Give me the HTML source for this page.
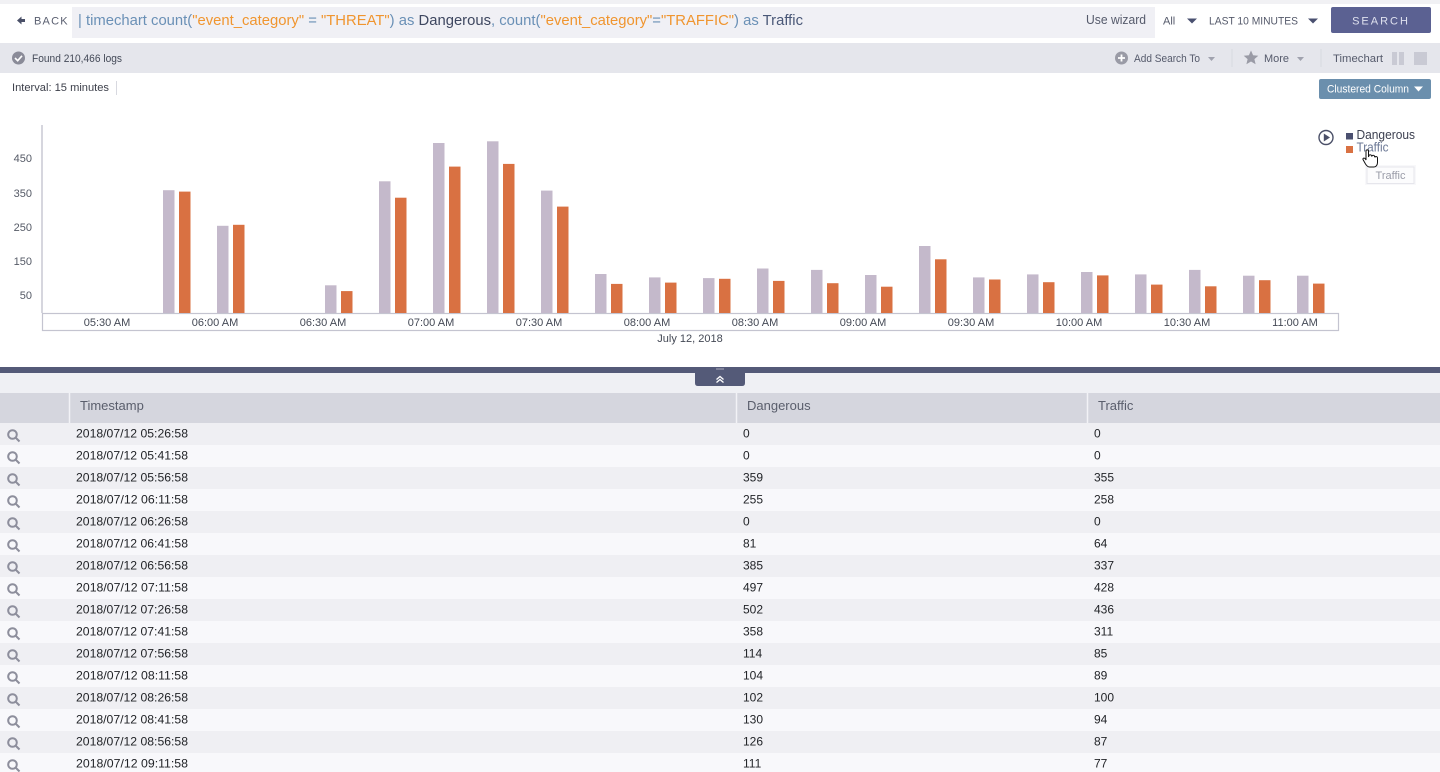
<!DOCTYPE html>
<html>
<head>
<meta charset="utf-8">
<style>
html,body{margin:0;padding:0;background:#fff;}
body{width:1440px;height:772px;overflow:hidden;}
svg{display:block;font-family:"Liberation Sans",sans-serif;}
</style>
</head>
<body>
<svg width="1440" height="772" viewBox="0 0 1440 772" xmlns="http://www.w3.org/2000/svg">
  <!-- top bar -->
  <rect x="0" y="0" width="1440" height="44" fill="#ffffff"/>
  <rect x="0" y="0" width="1440" height="4" fill="#f1f1f4"/>
  <!-- back -->
  <path d="M17 20.5 L21.5 16.5 L21.5 19 L25 19 L25 22 L21.5 22 L21.5 24.5 Z" fill="#4a5068"/>
  <text x="34" y="24.5" font-size="11" fill="#5a5f70" letter-spacing="1.2">BACK</text>
  <!-- query box -->
  <rect x="72" y="7" width="1083" height="31" fill="#f0f0f5"/>
  <text x="78" y="25" font-size="14.5" textLength="725" lengthAdjust="spacingAndGlyphs"><tspan fill="#6a90b6">| timechart count(</tspan><tspan fill="#f0952f">"event_category"</tspan><tspan fill="#6a90b6"> = </tspan><tspan fill="#f0952f">"THREAT"</tspan><tspan fill="#6a90b6">) as </tspan><tspan fill="#3e4760">Dangerous</tspan><tspan fill="#6a90b6">, count(</tspan><tspan fill="#f0952f">"event_category"</tspan><tspan fill="#6a90b6">=</tspan><tspan fill="#f0952f">"TRAFFIC"</tspan><tspan fill="#6a90b6">) as </tspan><tspan fill="#4a5878">Traffic</tspan></text>
  <text x="1086" y="24" font-size="12.5" fill="#555a6b" textLength="60" lengthAdjust="spacingAndGlyphs">Use wizard</text>
  <text x="1163" y="24.5" font-size="11" fill="#555a6b">All</text>
  <path d="M1187 18.5 L1197 18.5 L1192 23.5 Z" fill="#4a5070"/>
  <text x="1209" y="24.5" font-size="11" fill="#555a6b" textLength="89" lengthAdjust="spacingAndGlyphs">LAST 10 MINUTES</text>
  <path d="M1308 18.5 L1318 18.5 L1313 23.5 Z" fill="#4a5070"/>
  <rect x="1331" y="7" width="100" height="26" rx="2" fill="#5b6192"/>
  <text x="1381" y="24.5" font-size="11" fill="#dfe1ee" text-anchor="middle" letter-spacing="2">SEARCH</text>

  <!-- second bar -->
  <rect x="0" y="43" width="1440" height="30" fill="#e5e6ec"/>
  <circle cx="18.5" cy="58" r="6.5" fill="#8a8b98"/>
  <path d="M15 58 L17.7 60.7 L22 55.8" stroke="#fff" stroke-width="1.6" fill="none"/>
  <text x="32" y="62" font-size="11" fill="#444a58" textLength="90" lengthAdjust="spacingAndGlyphs">Found 210,466 logs</text>

  <circle cx="1121.5" cy="58" r="6.5" fill="#9a9ba6"/>
  <path d="M1121.5 54.5 V61.5 M1118 58 H1125" stroke="#fff" stroke-width="1.8"/>
  <text x="1134" y="62" font-size="11" fill="#555a6b" textLength="66" lengthAdjust="spacingAndGlyphs">Add Search To</text>
  <path d="M1208 57 L1215 57 L1211.5 61 Z" fill="#a0a2ae"/>
  <line x1="1232" y1="49" x2="1232" y2="67" stroke="#d8d9e0"/>
  <path d="M1251 50.5 L1253.1 55.3 L1258.3 55.7 L1254.4 59.1 L1255.6 64.2 L1251 61.5 L1246.4 64.2 L1247.6 59.1 L1243.7 55.7 L1248.9 55.3 Z" fill="#9a9ba6"/>
  <text x="1264" y="62" font-size="11" fill="#555a6b" textLength="25" lengthAdjust="spacingAndGlyphs">More</text>
  <path d="M1297 57 L1304 57 L1300.5 61 Z" fill="#a0a2ae"/>
  <line x1="1321" y1="49" x2="1321" y2="67" stroke="#d8d9e0"/>
  <text x="1333" y="62" font-size="11" fill="#555a6b" textLength="50" lengthAdjust="spacingAndGlyphs">Timechart</text>
  <rect x="1392" y="52" width="5" height="13" fill="#c9cad4"/>
  <rect x="1399" y="52" width="5" height="13" fill="#c9cad4"/>
  <rect x="1414" y="52" width="13" height="13" fill="#c9cad4"/>

  <!-- interval -->
  <text x="12" y="91" font-size="11" fill="#3c3f4a" textLength="97" lengthAdjust="spacingAndGlyphs">Interval: 15 minutes</text>
  <line x1="116.5" y1="81" x2="116.5" y2="95" stroke="#d8d9e0"/>
  <rect x="1319" y="79" width="112" height="20" rx="2" fill="#6b8fad"/>
  <text x="1327" y="92.5" font-size="11" fill="#ffffff" textLength="82" lengthAdjust="spacingAndGlyphs">Clustered Column</text>
  <path d="M1414 86.5 L1423 86.5 L1418.5 91.5 Z" fill="#ffffff"/>

  <!-- chart axes -->
  <line x1="42" y1="125" x2="42" y2="313" stroke="#c9c9d3" stroke-width="1.5"/>
  <rect x="42.5" y="313.5" width="1296" height="17" fill="#fff" stroke="#c4c4d0" stroke-width="1.2"/>
  <g font-size="11" fill="#555a66" text-anchor="end">
    <text x="32" y="162">450</text>
    <text x="32" y="197">350</text>
    <text x="32" y="231">250</text>
    <text x="32" y="265">150</text>
    <text x="32" y="299">50</text>
  </g>
  <!-- bars -->
  <g fill="#c4b9cb">
    <rect x="163" y="190.2" width="11.5" height="122.8"/>
    <rect x="217" y="225.8" width="11.5" height="87.2"/>
    <rect x="325" y="285.3" width="11.5" height="27.7"/>
    <rect x="379" y="181.3" width="11.5" height="131.7"/>
    <rect x="433" y="143" width="11.5" height="170"/>
    <rect x="487" y="141.3" width="11.5" height="171.7"/>
    <rect x="541" y="190.6" width="11.5" height="122.4"/>
    <rect x="595" y="274" width="11.5" height="39"/>
    <rect x="649" y="277.4" width="11.5" height="35.6"/>
    <rect x="703" y="278.1" width="11.5" height="34.9"/>
    <rect x="757" y="268.5" width="11.5" height="44.5"/>
    <rect x="811" y="269.9" width="11.5" height="43.1"/>
    <rect x="865" y="275" width="11.5" height="38"/>
    <rect x="919" y="246" width="11.5" height="67"/>
    <rect x="973" y="277.4" width="11.5" height="35.6"/>
    <rect x="1027" y="274.4" width="11.5" height="38.6"/>
    <rect x="1081" y="272" width="11.5" height="41"/>
    <rect x="1135" y="274.4" width="11.5" height="38.6"/>
    <rect x="1189" y="269.9" width="11.5" height="43.1"/>
    <rect x="1243" y="275.7" width="11.5" height="37.3"/>
    <rect x="1297" y="275.7" width="11.5" height="37.3"/>
  </g>
  <g fill="#d97142">
    <rect x="179" y="191.6" width="11.5" height="121.4"/>
    <rect x="233" y="224.8" width="11.5" height="88.2"/>
    <rect x="341" y="291.1" width="11.5" height="21.9"/>
    <rect x="395" y="197.7" width="11.5" height="115.3"/>
    <rect x="449" y="166.6" width="11.5" height="146.4"/>
    <rect x="503" y="163.9" width="11.5" height="149.1"/>
    <rect x="557" y="206.6" width="11.5" height="106.4"/>
    <rect x="611" y="283.9" width="11.5" height="29.1"/>
    <rect x="665" y="282.6" width="11.5" height="30.4"/>
    <rect x="719" y="278.8" width="11.5" height="34.2"/>
    <rect x="773" y="280.9" width="11.5" height="32.1"/>
    <rect x="827" y="283.2" width="11.5" height="29.8"/>
    <rect x="881" y="286.7" width="11.5" height="26.3"/>
    <rect x="935" y="259.3" width="11.5" height="53.7"/>
    <rect x="989" y="279.5" width="11.5" height="33.5"/>
    <rect x="1043" y="282.2" width="11.5" height="30.8"/>
    <rect x="1097" y="275.4" width="11.5" height="37.6"/>
    <rect x="1151" y="284.6" width="11.5" height="28.4"/>
    <rect x="1205" y="286.3" width="11.5" height="26.7"/>
    <rect x="1259" y="280.2" width="11.5" height="32.8"/>
    <rect x="1313" y="283.6" width="11.5" height="29.4"/>
  </g>
  <!-- x labels -->
  <g font-size="11" fill="#444955" text-anchor="middle">
    <text x="107" y="326">05:30 AM</text>
    <text x="215" y="326">06:00 AM</text>
    <text x="323" y="326">06:30 AM</text>
    <text x="431" y="326">07:00 AM</text>
    <text x="539" y="326">07:30 AM</text>
    <text x="647" y="326">08:00 AM</text>
    <text x="755" y="326">08:30 AM</text>
    <text x="863" y="326">09:00 AM</text>
    <text x="971" y="326">09:30 AM</text>
    <text x="1079" y="326">10:00 AM</text>
    <text x="1187" y="326">10:30 AM</text>
    <text x="1295" y="326">11:00 AM</text>
    <text x="690" y="342">July 12, 2018</text>
  </g>
  <!-- legend -->
  <circle cx="1326" cy="137.5" r="7" fill="none" stroke="#4b5068" stroke-width="1.4"/>
  <path d="M1323.8 133.5 L1330 137.5 L1323.8 141.5 Z" fill="#4b5068"/>
  <rect x="1346" y="133" width="7" height="6.5" fill="#4b5070"/>
  <text x="1356.5" y="139" font-size="12.5" fill="#3c4050" textLength="58.5" lengthAdjust="spacingAndGlyphs">Dangerous</text>
  <rect x="1346" y="146" width="7" height="7" fill="#d97142"/>
  <text x="1356.5" y="151.5" font-size="12.5" fill="#6b7895" textLength="32" lengthAdjust="spacingAndGlyphs">Traffic</text>
  <!-- tooltip -->
  <rect x="1365" y="165" width="51" height="20" fill="#f4f4f7" opacity="0.6"/>
  <rect x="1367" y="167" width="47" height="16.5" fill="#fcfcfd" stroke="#e6e6ec"/>
  <text x="1390.5" y="179" font-size="11" fill="#9a9ca8" text-anchor="middle">Traffic</text>
  <!-- cursor -->
  <path d="M1366 151 C1366 149.5 1368.5 149.5 1368.5 151 L1368.5 157 L1369 155.5 C1369.5 154.5 1371.5 154.5 1371.5 156 L1372 156 C1372.5 155 1374.5 155 1374.5 156.5 L1375 157 C1375.5 156 1377.5 156.5 1377.5 158 L1377.5 162.5 C1377.5 165 1376 167 1374 167 L1369.5 167 C1368 167 1366.5 165.5 1365.5 164 L1363 159.5 C1362.5 158 1364.5 157.5 1365.5 159 L1366 160 Z" fill="#fff" stroke="#111" stroke-width="1"/>

  <!-- divider -->
  <rect x="0" y="367" width="1440" height="6" fill="#545a78"/>
  <rect x="0" y="373" width="1440" height="20" fill="#eff0f4"/>
  <path d="M695 372 H745 V383 Q745 386 742 386 H698 Q695 386 695 383 Z" fill="#545a78"/>
  <path d="M716.5 379.5 L720 376.5 L723.5 379.5 M716.5 382.5 L720 379.5 L723.5 382.5" stroke="#fff" stroke-width="1.3" fill="none"/>
  <rect x="716" y="368.5" width="8" height="1" fill="#aab"/>

  <!-- table header -->
  <rect x="0" y="393" width="1440" height="30" fill="#d5d6de"/>
  <line x1="69.5" y1="393" x2="69.5" y2="423" stroke="#f2f2f6" stroke-width="1.5"/>
  <line x1="736.5" y1="393" x2="736.5" y2="423" stroke="#f2f2f6" stroke-width="1.5"/>
  <line x1="1087.5" y1="393" x2="1087.5" y2="423" stroke="#f2f2f6" stroke-width="1.5"/>
  <g font-size="13" fill="#5a5e6c">
    <text x="80" y="410">Timestamp</text>
    <text x="747" y="410">Dangerous</text>
    <text x="1098" y="410">Traffic</text>
  </g>

  <!-- rows -->
  <g>
    <rect x="0" y="423" width="1440" height="22" fill="#efeff3"/>
    <rect x="0" y="445" width="1440" height="22" fill="#f8f8fb"/>
    <rect x="0" y="467" width="1440" height="22" fill="#efeff3"/>
    <rect x="0" y="489" width="1440" height="22" fill="#f8f8fb"/>
    <rect x="0" y="511" width="1440" height="22" fill="#efeff3"/>
    <rect x="0" y="533" width="1440" height="22" fill="#f8f8fb"/>
    <rect x="0" y="555" width="1440" height="22" fill="#efeff3"/>
    <rect x="0" y="577" width="1440" height="22" fill="#f8f8fb"/>
    <rect x="0" y="599" width="1440" height="22" fill="#efeff3"/>
    <rect x="0" y="621" width="1440" height="22" fill="#f8f8fb"/>
    <rect x="0" y="643" width="1440" height="22" fill="#efeff3"/>
    <rect x="0" y="665" width="1440" height="22" fill="#f8f8fb"/>
    <rect x="0" y="687" width="1440" height="22" fill="#efeff3"/>
    <rect x="0" y="709" width="1440" height="22" fill="#f8f8fb"/>
    <rect x="0" y="731" width="1440" height="22" fill="#efeff3"/>
    <rect x="0" y="753" width="1440" height="22" fill="#f8f8fb"/>
  </g>
  <!-- magnifier icons -->
  <g stroke="#8d8e9c" stroke-width="2" fill="none">
    <circle cx="12.5" cy="434.5" r="4.3"/><line x1="15.5" y1="437.5" x2="19.5" y2="441.5"/>
    <circle cx="12.5" cy="456.5" r="4.3"/><line x1="15.5" y1="459.5" x2="19.5" y2="463.5"/>
    <circle cx="12.5" cy="478.5" r="4.3"/><line x1="15.5" y1="481.5" x2="19.5" y2="485.5"/>
    <circle cx="12.5" cy="500.5" r="4.3"/><line x1="15.5" y1="503.5" x2="19.5" y2="507.5"/>
    <circle cx="12.5" cy="522.5" r="4.3"/><line x1="15.5" y1="525.5" x2="19.5" y2="529.5"/>
    <circle cx="12.5" cy="544.5" r="4.3"/><line x1="15.5" y1="547.5" x2="19.5" y2="551.5"/>
    <circle cx="12.5" cy="566.5" r="4.3"/><line x1="15.5" y1="569.5" x2="19.5" y2="573.5"/>
    <circle cx="12.5" cy="588.5" r="4.3"/><line x1="15.5" y1="591.5" x2="19.5" y2="595.5"/>
    <circle cx="12.5" cy="610.5" r="4.3"/><line x1="15.5" y1="613.5" x2="19.5" y2="617.5"/>
    <circle cx="12.5" cy="632.5" r="4.3"/><line x1="15.5" y1="635.5" x2="19.5" y2="639.5"/>
    <circle cx="12.5" cy="654.5" r="4.3"/><line x1="15.5" y1="657.5" x2="19.5" y2="661.5"/>
    <circle cx="12.5" cy="676.5" r="4.3"/><line x1="15.5" y1="679.5" x2="19.5" y2="683.5"/>
    <circle cx="12.5" cy="698.5" r="4.3"/><line x1="15.5" y1="701.5" x2="19.5" y2="705.5"/>
    <circle cx="12.5" cy="720.5" r="4.3"/><line x1="15.5" y1="723.5" x2="19.5" y2="727.5"/>
    <circle cx="12.5" cy="742.5" r="4.3"/><line x1="15.5" y1="745.5" x2="19.5" y2="749.5"/>
    <circle cx="12.5" cy="764.5" r="4.3"/><line x1="15.5" y1="767.5" x2="19.5" y2="771.5"/>
  </g>
  <g font-size="12" fill="#222428">
    <text x="76" y="437.5" textLength="112" lengthAdjust="spacingAndGlyphs">2018/07/12 05:26:58</text>
    <text x="76" y="459.5" textLength="112" lengthAdjust="spacingAndGlyphs">2018/07/12 05:41:58</text>
    <text x="76" y="481.5" textLength="112" lengthAdjust="spacingAndGlyphs">2018/07/12 05:56:58</text>
    <text x="76" y="503.5" textLength="112" lengthAdjust="spacingAndGlyphs">2018/07/12 06:11:58</text>
    <text x="76" y="525.5" textLength="112" lengthAdjust="spacingAndGlyphs">2018/07/12 06:26:58</text>
    <text x="76" y="547.5" textLength="112" lengthAdjust="spacingAndGlyphs">2018/07/12 06:41:58</text>
    <text x="76" y="569.5" textLength="112" lengthAdjust="spacingAndGlyphs">2018/07/12 06:56:58</text>
    <text x="76" y="591.5" textLength="112" lengthAdjust="spacingAndGlyphs">2018/07/12 07:11:58</text>
    <text x="76" y="613.5" textLength="112" lengthAdjust="spacingAndGlyphs">2018/07/12 07:26:58</text>
    <text x="76" y="635.5" textLength="112" lengthAdjust="spacingAndGlyphs">2018/07/12 07:41:58</text>
    <text x="76" y="657.5" textLength="112" lengthAdjust="spacingAndGlyphs">2018/07/12 07:56:58</text>
    <text x="76" y="679.5" textLength="112" lengthAdjust="spacingAndGlyphs">2018/07/12 08:11:58</text>
    <text x="76" y="701.5" textLength="112" lengthAdjust="spacingAndGlyphs">2018/07/12 08:26:58</text>
    <text x="76" y="723.5" textLength="112" lengthAdjust="spacingAndGlyphs">2018/07/12 08:41:58</text>
    <text x="76" y="745.5" textLength="112" lengthAdjust="spacingAndGlyphs">2018/07/12 08:56:58</text>
    <text x="76" y="767.5" textLength="112" lengthAdjust="spacingAndGlyphs">2018/07/12 09:11:58</text>

    <text x="743" y="437.5">0</text>
    <text x="743" y="459.5">0</text>
    <text x="743" y="481.5">359</text>
    <text x="743" y="503.5">255</text>
    <text x="743" y="525.5">0</text>
    <text x="743" y="547.5">81</text>
    <text x="743" y="569.5">385</text>
    <text x="743" y="591.5">497</text>
    <text x="743" y="613.5">502</text>
    <text x="743" y="635.5">358</text>
    <text x="743" y="657.5">114</text>
    <text x="743" y="679.5">104</text>
    <text x="743" y="701.5">102</text>
    <text x="743" y="723.5">130</text>
    <text x="743" y="745.5">126</text>
    <text x="743" y="767.5">111</text>

    <text x="1094" y="437.5">0</text>
    <text x="1094" y="459.5">0</text>
    <text x="1094" y="481.5">355</text>
    <text x="1094" y="503.5">258</text>
    <text x="1094" y="525.5">0</text>
    <text x="1094" y="547.5">64</text>
    <text x="1094" y="569.5">337</text>
    <text x="1094" y="591.5">428</text>
    <text x="1094" y="613.5">436</text>
    <text x="1094" y="635.5">311</text>
    <text x="1094" y="657.5">85</text>
    <text x="1094" y="679.5">89</text>
    <text x="1094" y="701.5">100</text>
    <text x="1094" y="723.5">94</text>
    <text x="1094" y="745.5">87</text>
    <text x="1094" y="767.5">77</text>
  </g>
</svg>
</body>
</html>
